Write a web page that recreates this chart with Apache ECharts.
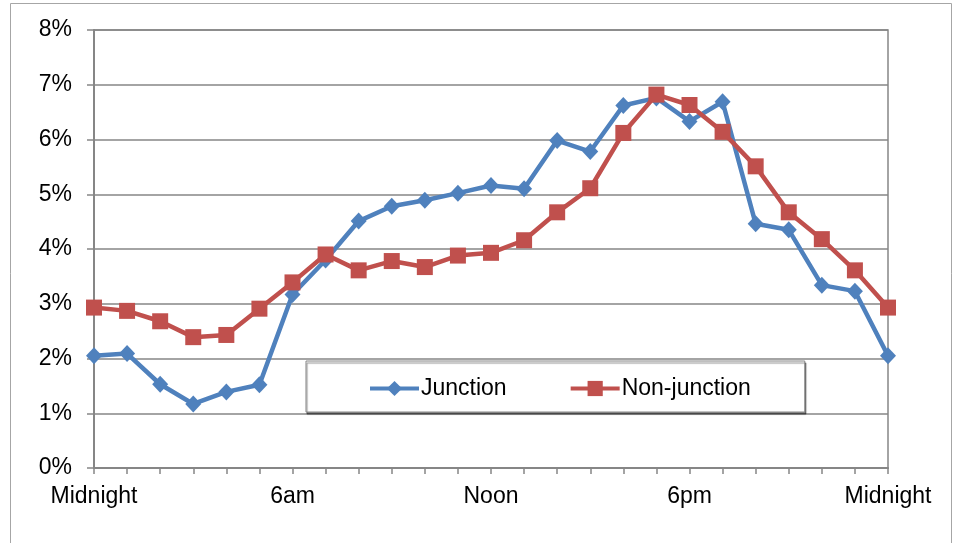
<!DOCTYPE html>
<html>
<head>
<meta charset="utf-8">
<title>Junction vs non-junction by hour</title>
<script src="https://cdn.jsdelivr.net/npm/echarts@6/dist/echarts.min.js"></script>
<style>
  html, body { margin: 0; padding: 0; background: #fff; }
  #main { width: 953px; height: 543px; }
</style>
</head>
<body>
<div id="main"></div>
<script type="text/javascript">
  // hour of day, 0..24
  var hours = ['0', '1', '2', '3', '4', '5', '6', '7', '8', '9', '10', '11', '12',
    '13', '14', '15', '16', '17', '18', '19', '20', '21', '22', '23', '24'];
  var hourLabels = { 0: 'Midnight', 6: '6am', 12: 'Noon', 18: '6pm', 24: 'Midnight' };

  // share of crashes (%)
  var junction = [2.05, 2.09, 1.53, 1.17, 1.39, 1.52, 3.17, 3.80, 4.51, 4.78, 4.89, 5.02, 5.16,
    5.10, 5.98, 5.78, 6.62, 6.76, 6.33, 6.69, 4.46, 4.35, 3.34, 3.23, 2.05];
  var nonJunction = [2.93, 2.87, 2.68, 2.39, 2.43, 2.91, 3.39, 3.90, 3.61, 3.78, 3.67, 3.88, 3.93,
    4.16, 4.67, 5.11, 6.12, 6.82, 6.63, 6.14, 5.51, 4.67, 4.18, 3.61, 2.93];

  var font = 'Liberation Sans, Arial, sans-serif';
  var fontSize = 23;
  var myChart = echarts.init(document.getElementById('main'));

  var option = {
    animation: false,
    textStyle: { fontFamily: font },
    graphic: [{
      type: 'rect',
      shape: { x: 10.5, y: 3.5, width: 941, height: 560 },
      style: { fill: 'none', stroke: '#a6a6a6', lineWidth: 1 },
      silent: true
    }],
    grid: {
      left: 94,
      right: 65,
      top: 30,
      bottom: 75,
      show: true,
      borderColor: '#868686',
      borderWidth: 1.5
    },
    legend: {
      left: 306,
      top: 361,
      padding: [16, 54, 12, 62],
      itemGap: 62,
      itemWidth: 49,
      itemHeight: 19,
      backgroundColor: '#fff',
      borderColor: '#868686',
      borderWidth: 1,
      shadowColor: 'rgba(0,0,0,0.45)',
      shadowOffsetX: 1,
      shadowOffsetY: 2,
      shadowBlur: 1,
      lineStyle: { width: 4 },
      textStyle: { fontSize: fontSize, color: '#000', fontFamily: font, padding: [0, 0, 0, -3] },
      data: ['Junction', 'Non-junction']
    },
    xAxis: {
      type: 'category',
      data: hours,
      boundaryGap: false,
      axisLine: { lineStyle: { color: '#868686', width: 2 } },
      axisTick: { show: true, interval: 0, length: 6, lineStyle: { color: '#868686', width: 1.5 } },
      axisLabel: {
        interval: 0,
        margin: 17,
        fontSize: fontSize,
        color: '#000',
        fontFamily: font,
        formatter: function (v) { return hourLabels[v] || ''; }
      },
      splitLine: { show: false }
    },
    yAxis: {
      type: 'value',
      min: 0,
      max: 8,
      interval: 1,
      axisLine: { show: true, lineStyle: { color: '#868686', width: 2 } },
      axisTick: { show: true, inside: false, length: 7, lineStyle: { color: '#868686', width: 1.5 } },
      axisLabel: {
        margin: 22,
        fontSize: fontSize,
        color: '#000',
        fontFamily: font,
        formatter: '{value}%'
      },
      splitLine: { lineStyle: { color: '#868686', width: 1.5 } }
    },
    series: [
      {
        name: 'Junction',
        type: 'line',
        data: junction,
        symbol: 'diamond',
        symbolSize: [16, 17],
        color: '#4f81bd',
        lineStyle: { width: 4.5, color: '#4f81bd' },
        itemStyle: { color: '#4f81bd' }
      },
      {
        name: 'Non-junction',
        type: 'line',
        data: nonJunction,
        symbol: 'rect',
        symbolSize: 16,
        color: '#c0504d',
        lineStyle: { width: 4.5, color: '#c0504d' },
        itemStyle: { color: '#c0504d' }
      }
    ]
  };

  myChart.setOption(option);
</script>
</body>
</html>
